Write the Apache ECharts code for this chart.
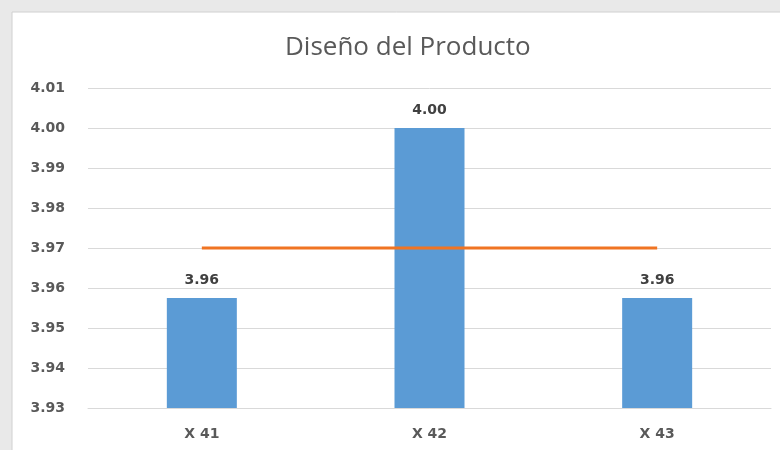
<!DOCTYPE html>
<html>
<head>
<meta charset="utf-8">
<script src="https://cdn.jsdelivr.net/npm/echarts@6/dist/echarts.min.js"></script>
<style>
  html, body { margin: 0; padding: 0; background: #e9e9e9; }
  #chart { width: 780px; height: 450px; }
</style>
</head>
<body>
<div id="chart"></div>
<script>
const categories = ['X 41', 'X 42', 'X 43'];
const scores = [3.9575, 4.00, 3.9575];
const average = [3.97, 3.97, 3.97];
const yMin = 3.93, yMax = 4.01, yStep = 0.01;

const labelFont = { fontFamily: 'DejaVu Sans', fontWeight: 'bold', fontSize: 14 };

const chart = echarts.init(document.getElementById('chart'));
chart.setOption({
  animation: false,
  backgroundColor: '#e9e9e9',
  graphic: [{
    type: 'rect',
    shape: { x: 12, y: 12, width: 800, height: 460 },
    style: { fill: '#ffffff', stroke: '#d0d0d0', lineWidth: 1 },
    z: -10
  }],
  title: {
    text: 'Diseño del Producto',
    left: 280,
    top: 30,
    textStyle: { fontFamily: 'Open Sans', fontSize: 26, fontWeight: 'normal', color: '#595959' }
  },
  grid: { left: 88, right: 9, top: 88, bottom: 42 },
  xAxis: {
    type: 'category',
    data: categories,
    axisLine: { lineStyle: { color: '#d9d9d9' } },
    axisTick: { show: false },
    axisLabel: Object.assign({ color: '#595959', margin: 19 }, labelFont)
  },
  yAxis: {
    type: 'value',
    min: yMin, max: yMax, interval: yStep,
    axisLine: { show: false },
    axisTick: { show: false },
    splitLine: { lineStyle: { color: '#d9d9d9' } },
    axisLabel: Object.assign({ color: '#595959', margin: 23, formatter: v => v.toFixed(2) }, labelFont)
  },
  series: [{
    type: 'bar',
    data: scores,
    barWidth: 70,
    itemStyle: { color: '#5B9BD5' },
    label: Object.assign({
      show: true, position: 'top', distance: 11,
      color: '#404040',
      formatter: p => p.value.toFixed(2)
    }, labelFont)
  }, {
    type: 'line',
    data: average,
    symbol: 'none',
    lineStyle: { color: '#F07423', width: 3 },
    z: 5
  }]
});
</script>
</body>
</html>
